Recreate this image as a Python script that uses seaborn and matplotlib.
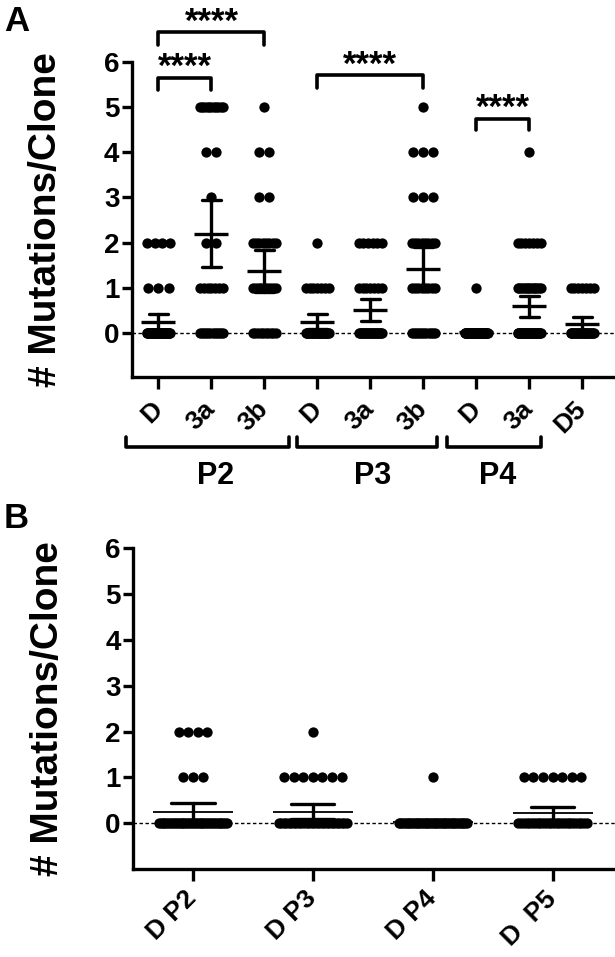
import numpy as np
import pandas as pd
import matplotlib
matplotlib.use("Agg")
import matplotlib.pyplot as plt
import seaborn as sns

# ---------------- data ----------------
mutation_levels = [0, 1, 2, 3, 4, 5]

# number of clones at each mutation level (0..5)
counts_p2_d = [37, 3, 4, 0, 0, 0]
counts_p2_3a = [12, 7, 2, 1, 2, 11]
counts_p2_3b = [10, 9, 8, 2, 2, 1]
counts_p3_d = [28, 7, 1, 0, 0, 0]
counts_p3_3a = [24, 7, 6, 0, 0, 0]
counts_p3_3b = [12, 8, 8, 3, 3, 1]
counts_p4_d = [39, 1, 0, 0, 0, 0]
counts_p4_3a = [32, 14, 7, 0, 1, 0]
counts_d5 = [26, 7, 0, 0, 0, 0]

groups_a = ["P2 D", "P2 3a", "P2 3b", "P3 D", "P3 3a", "P3 3b", "P4 D", "P4 3a", "D5"]
tick_labels_a = ["D", "3a", "3b", "D", "3a", "3b", "D", "3a", "D5"]
counts_a = [counts_p2_d, counts_p2_3a, counts_p2_3b, counts_p3_d, counts_p3_3a,
            counts_p3_3b, counts_p4_d, counts_p4_3a, counts_d5]

groups_b = ["D P2", "D P3", "D P4", "D P5"]
tick_labels_b = ["D P2", "D P3", "D P4", "D  P5"]
counts_b = [counts_p2_d, counts_p3_d, counts_p4_d, counts_d5]

comparisons_a = [("P2 D", "P2 3a", "****"), ("P2 D", "P2 3b", "****"),
                 ("P3 D", "P3 3b", "****"), ("P4 D", "P4 3a", "****")]
passage_labels = ["P2", "P3", "P4"]

ylabel_text = "# Mutations/Clone"

# ---------------- layout / style ----------------
bracket_levels = [(5.37, 5.64), (6.36, 6.65), (5.42, 5.70), (4.49, 4.73)]
passage_spans = [(-0.62, 2.47), (2.62, 5.26), (5.44, 7.22)]
passage_centers = [1.08, 4.05, 6.4]

sns.set_style("ticks")
plt.rcParams["font.family"] = ["Liberation Sans", "DejaVu Sans"]
plt.rcParams["font.weight"] = "bold"
for key in ["text.color", "axes.labelcolor", "xtick.color", "ytick.color",
            "axes.edgecolor"]:
    plt.rcParams[key] = "black"


def build_frame(groups, counts):
    rows = []
    for i, (g, c) in enumerate(zip(groups, counts)):
        vals = np.repeat(mutation_levels, c)
        for v in vals:
            rows.append({"group": g, "pos": i, "value": float(v)})
    return pd.DataFrame(rows)


def dot_offsets(df, step, max_width):
    offs = np.zeros(len(df))
    for (_, v), idx in df.groupby(["pos", "value"]).groups.items():
        idx = np.asarray(idx)
        m = len(idx)
        if m > 1:
            w = min((m - 1) * step, max_width)
            offs[idx] = np.linspace(-w / 2, w / 2, m)
    return offs


def draw_panel(ax, df, step, max_width, mean_size, mean_ew, ylim, xlim, labels, xpad):
    df = df.copy()
    df["x"] = df["pos"] + dot_offsets(df, step, max_width)
    ax.axhline(0, color="black", lw=1.0, ls=(0, (2.5, 1.8)), zorder=1)
    sns.scatterplot(data=df, x="x", y="value", color="black", s=55, linewidth=0,
                    legend=False, ax=ax, zorder=3)
    sns.pointplot(data=df, x="pos", y="value", native_scale=True, orient="x",
                  errorbar=("se", 2), capsize=0.36, color="black",
                  marker="_", markersize=mean_size, markeredgewidth=mean_ew,
                  linestyle="none", err_kws={"linewidth": 2.4, "zorder": 5},
                  zorder=6, ax=ax)
    ax.set_xlim(*xlim)
    ax.set_ylim(*ylim)
    ax.set_yticks(range(0, 7))
    ax.set_yticklabels([str(t) for t in range(0, 7)], fontsize=20, fontweight="bold")
    ax.set_xticks(range(len(labels)))
    ax.set_xticklabels(labels, rotation=45, ha="right", va="center",
                       rotation_mode="anchor", fontsize=19, fontweight="bold")
    ax.set_xlabel("")
    ax.set_ylabel(ylabel_text, fontsize=28, fontweight="bold")
    ax.yaxis.set_label_coords(-0.14, 0.5)
    for s in ["top", "right"]:
        ax.spines[s].set_visible(False)
    for s in ["left", "bottom"]:
        ax.spines[s].set_linewidth(2.4)
    ax.tick_params(axis="y", length=7.5, width=2.4, pad=1.5, direction="out")
    ax.tick_params(axis="x", length=8.5, width=2.4, pad=xpad, direction="out")


fig = plt.figure(figsize=(6.15, 9.57), dpi=100)
ax_a = fig.add_axes([132 / 615, 1 - 376.7 / 957, (615 - 132) / 615, (376.7 - 61.7) / 957])
ax_b = fig.add_axes([133 / 615, 1 - 868.5 / 957, (615 - 133) / 615, (868.5 - 548.3) / 957])

df_a = build_frame(groups_a, counts_a)
df_b = build_frame(groups_b, counts_b)

draw_panel(ax_a, df_a, 0.19, 0.44, 25, 2.4, (-0.96, 6), (-0.5, 8.62), tick_labels_a, 12)
draw_panel(ax_b, df_b, 0.08, 0.57, 57, 1.3, (-0.99, 6), (-0.5, 3.52), tick_labels_b, 10.5)

# significance brackets (panel A)
for (g1, g2, txt), (lo, hi) in zip(comparisons_a, bracket_levels):
    x1, x2 = groups_a.index(g1), groups_a.index(g2)
    ax_a.plot([x1, x1, x2, x2], [lo, hi, hi, lo], color="black", lw=2.6,
              clip_on=False, solid_capstyle="round", solid_joinstyle="round")
    ax_a.text((x1 + x2) / 2, hi + 0.02, txt, ha="center", va="baseline",
              fontsize=25, fontweight="bold", clip_on=False)

# passage group brackets under the x axis (panel A)
for lab, (xa, xb), xc in zip(passage_labels, passage_spans, passage_centers):
    ax_a.plot([xa, xa, xb, xb], [-2.29, -2.51, -2.51, -2.29], color="black", lw=2.6,
              clip_on=False, solid_capstyle="round", solid_joinstyle="round")
    ax_a.text(xc, -3.15, lab, ha="center", va="center", fontsize=22,
              fontweight="bold", clip_on=False)

fig.text(0.006, 1 - 5 / 957, "A", fontsize=25, fontweight="bold", va="top", ha="left")
fig.text(0.006, 1 - 502 / 957, "B", fontsize=25, fontweight="bold", va="top", ha="left")

fig.savefig("out.png", dpi=100)
